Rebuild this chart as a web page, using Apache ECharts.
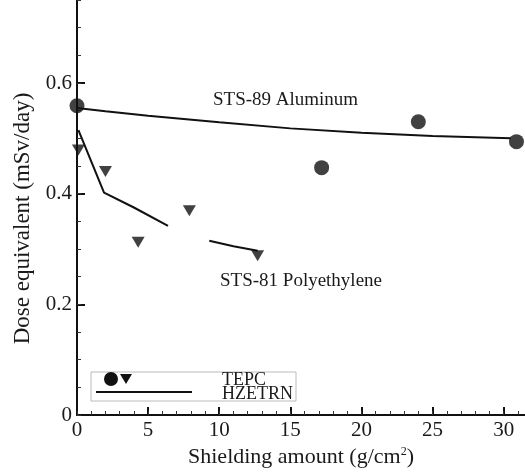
<!DOCTYPE html>
<html>
<head>
<meta charset="utf-8">
<script src="https://cdn.jsdelivr.net/npm/echarts@6/dist/echarts.min.js"></script>
<style>
html,body{margin:0;padding:0;background:#fff;}
#chart{width:525px;height:473px;}
</style>
</head>
<body>
<div id="chart"></div>
<script>
// Data
const aluminumTEPC = [[0, 0.559], [17.2, 0.447], [24.0, 0.530], [30.9, 0.494]];
const polyTEPC = [[0.1, 0.479], [2.0, 0.440], [4.3, 0.312], [7.9, 0.369], [12.7, 0.288]];
const aluminumHZETRN = [[0, 0.555], [2, 0.549], [5, 0.541], [10, 0.529], [15, 0.518], [20, 0.510], [25, 0.504], [30.5, 0.500]];
const polyHZETRN = [[0.1, 0.515], [1.9, 0.402], [4, 0.375], [6.4, 0.342], [null, null], [9.3, 0.315], [11, 0.305], [12.7, 0.297]];
const xTicks = [0, 5, 10, 15, 20, 25, 30];
const yTicks = [0, 0.2, 0.4, 0.6];

const FONT = '"Liberation Serif", "DejaVu Serif", serif';
const TXT = '#1a1a1a';
const AX = '#111';

const chart = echarts.init(document.getElementById('chart'));
const option = {
  animation: false,
  backgroundColor: '#fff',
  grid: { left: 77, right: 0, top: 0, bottom: 58 },
  xAxis: [{
    type: 'value', min: 0, max: 31.5, interval: 5, position: 'bottom',
    name: 'Shielding amount (g/cm{sup|2})', nameLocation: 'middle', nameGap: 31,
    nameTextStyle: { fontFamily: FONT, fontSize: 22, color: TXT,
      rich: { sup: { fontFamily: FONT, fontSize: 12, color: TXT, verticalAlign: 'top', padding: [0, 0, 8, 0] } } },
    axisLine: { onZero: false, lineStyle: { color: AX, width: 2 } },
    axisTick: { inside: true, length: 8, lineStyle: { color: AX, width: 2 } },
    splitLine: { show: false },
    axisLabel: { fontFamily: FONT, fontSize: 21, color: TXT, margin: 5, showMaxLabel: false,
      formatter: v => xTicks.includes(v) ? String(v) : '' }
  }, {
    type: 'value', min: 0, max: 31.5, interval: 1, position: 'bottom', offset: 0,
    axisLine: { show: false },
    axisTick: { inside: true, length: 4, lineStyle: { color: '#333', width: 1 } },
    axisLabel: { show: false }, splitLine: { show: false }
  }],
  yAxis: [{
    type: 'value', min: 0, max: 0.75, interval: 0.2, position: 'left',
    name: 'Dose equivalent (mSv/day)', nameLocation: 'middle', nameGap: 40,
    nameTextStyle: { fontFamily: FONT, fontSize: 23, color: TXT, padding: [0, 22, 0, 0] },
    axisLine: { onZero: false, lineStyle: { color: AX, width: 2 } },
    axisTick: { inside: true, length: 8, lineStyle: { color: AX, width: 2 } },
    splitLine: { show: false },
    axisLabel: { fontFamily: FONT, fontSize: 21, color: TXT, margin: 5, showMaxLabel: false,
      formatter: v => { const t = yTicks.find(y => Math.abs(y - v) < 1e-9); return t === undefined ? '' : String(t); } }
  }, {
    type: 'value', min: 0, max: 0.75, interval: 0.05, position: 'left', offset: 0,
    axisLine: { show: false },
    axisTick: { inside: true, length: 4, lineStyle: { color: '#333', width: 1 } },
    axisLabel: { show: false }, splitLine: { show: false }
  }],
  series: [
    { name: 'Aluminum HZETRN', type: 'line', data: aluminumHZETRN, showSymbol: false, symbol: 'none',
      lineStyle: { color: '#111', width: 2 }, z: 2 },
    { name: 'Polyethylene HZETRN', type: 'line', data: polyHZETRN, showSymbol: false, symbol: 'none', connectNulls: false,
      lineStyle: { color: '#111', width: 2 }, z: 2 },
    { name: 'Aluminum TEPC', type: 'scatter', data: aluminumTEPC, symbol: 'circle', symbolSize: 15,
      itemStyle: { color: '#111' }, z: 3 },
    { name: 'Polyethylene TEPC', type: 'scatter', data: polyTEPC, symbol: 'triangle', symbolSize: [13, 11], symbolRotate: 180,
      itemStyle: { color: '#111' }, z: 3 }
  ],
  graphic: [
    { type: 'text', left: 213, top: 91, style: { text: 'STS-89 Aluminum', fontFamily: FONT, fontSize: 19, fill: TXT } },
    { type: 'text', left: 220, top: 272, style: { text: 'STS-81 Polyethylene', fontFamily: FONT, fontSize: 19, fill: TXT } },
    { type: 'rect', shape: { x: 91, y: 372, width: 205, height: 29 }, style: { fill: '#fff', stroke: '#bbb', lineWidth: 1 }, z: 10 },
    { type: 'circle', shape: { cx: 111, cy: 379, r: 7 }, style: { fill: '#111' }, z: 11 },
    { type: 'polygon', shape: { points: [[120, 374], [132, 374], [126, 384]] }, style: { fill: '#111' }, z: 11 },
    { type: 'line', shape: { x1: 96, y1: 392, x2: 192, y2: 392 }, style: { stroke: '#111', lineWidth: 2 }, z: 11 },
    { type: 'text', left: 222, top: 371, style: { text: 'TEPC', fontFamily: FONT, fontSize: 18, fill: TXT }, z: 11 },
    { type: 'text', left: 222, top: 385, style: { text: 'HZETRN', fontFamily: FONT, fontSize: 18, fill: TXT }, z: 11 }
  ]
};
chart.setOption(option);
</script>
</body>
</html>
